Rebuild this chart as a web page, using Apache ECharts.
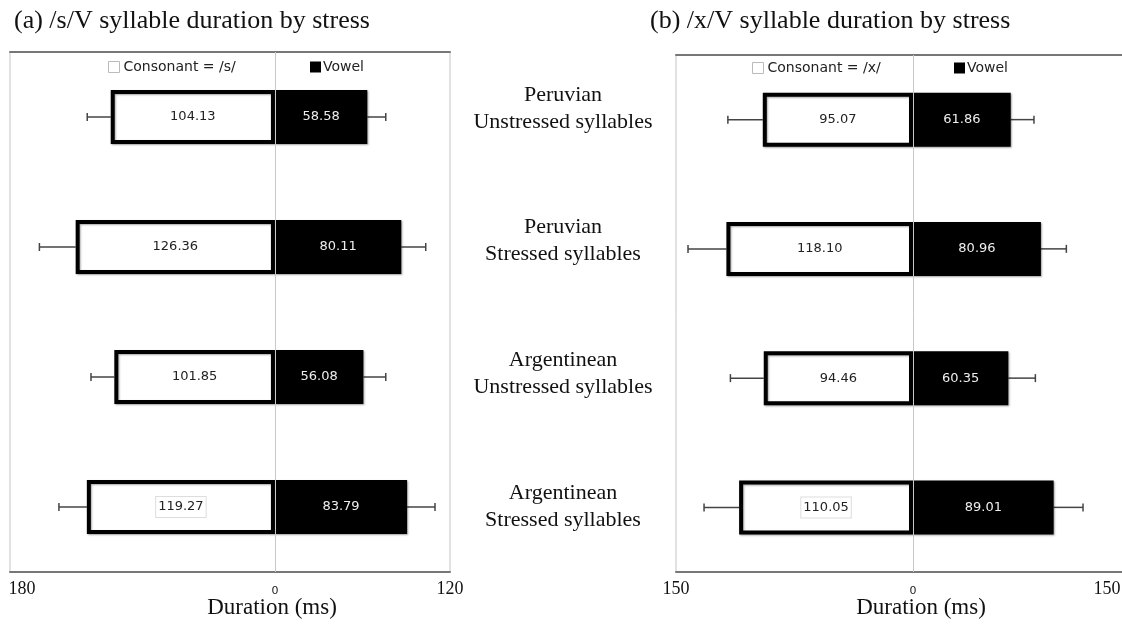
<!DOCTYPE html>
<html>
<head>
<meta charset="utf-8">
<script src="https://cdn.jsdelivr.net/npm/echarts@6/dist/echarts.min.js"></script>
<style>html,body{margin:0;padding:0;background:#fff;overflow:hidden}#c{width:1122px;height:624px}</style>
</head>
<body>
<div id="c"></div>
<script>
// ---- data ----
const categories = ['Peruvian\nUnstressed syllables', 'Peruvian\nStressed syllables', 'Argentinean\nUnstressed syllables', 'Argentinean\nStressed syllables'];
const sConsonant = [104.13, 126.36, 101.85, 119.27];
const sVowel = [58.58, 80.11, 56.08, 83.79];
const sConsonantSD = [14.9, 23.0, 14.8, 17.7];
const sVowelSD = [11.7, 15.5, 14.2, 17.7];
const xConsonant = [95.07, 118.10, 94.46, 110.05];
const xVowel = [61.86, 80.96, 60.35, 89.01];
const xConsonantSD = [22.1, 24.3, 21.1, 22.2];
const xVowelSD = [14.7, 16.1, 17.1, 18.6];
const leftTickValues = [-168, 0, 111];
const leftTickLabels = ['180', '0', '120'];
const rightTickValues = [-150, 0, 150];
const rightTickLabels = ['150', '0', '150'];
const titles = ['(a) /s/V syllable duration by stress', '(b) /x/V syllable duration by stress'];
const axisName = 'Duration (ms)';

const SERIF = '"Liberation Serif", "DejaVu Serif", serif';
const SANS = '"DejaVu Sans", Verdana, sans-serif';

const chart = echarts.init(document.getElementById('c'), null, {renderer: 'canvas'});

function consData(vals) {
  return vals.map((v, i) => {
    const item = {value: -v};
    if (i === vals.length - 1) {
      item.label = {backgroundColor: '#fff', borderColor: '#ddd', borderWidth: 1, padding: [4, 2, 3, 2]};
    }
    return item;
  });
}
function errData(vals, sds, sign) {
  return vals.map((v, i) => [sign * (v + sds[i]), i, sign * v]);
}
function errRender(params, api) {
  const end = api.coord([api.value(0), api.value(1)]);
  const start = api.coord([api.value(2), api.value(1)]);
  const cap = 4;
  const st = {stroke: '#444', lineWidth: 1.5};
  return {
    type: 'group',
    children: [
      {type: 'line', shape: {x1: start[0], y1: start[1], x2: end[0], y2: end[1]}, style: st},
      {type: 'line', shape: {x1: end[0], y1: end[1] - cap, x2: end[0], y2: end[1] + cap}, style: st}
    ]
  };
}
function tickFormatter(values, labels) {
  return function (val) {
    const k = values.indexOf(val);
    const t = k >= 0 ? labels[k] : '';
    if (val === 0) return '{z|' + t + '}';
    if (k === 0 && values === leftTickValues) return '{l|' + t + '}';
    if (k === values.length - 1 && values === rightTickValues) return '{r|' + t + '}';
    return '{n|' + t + '}';
  };
}
const richTicks = {
  n: {fontFamily: SERIF, fontSize: 18, color: '#111'},
  l: {fontFamily: SERIF, fontSize: 18, color: '#111', padding: [0, 0, 0, 24]},
  r: {fontFamily: SERIF, fontSize: 18, color: '#111', padding: [0, 86, 0, 0]},
  z: {fontFamily: SANS, fontSize: 11, color: '#222', padding: [6, 0, 0, 0]}
};

const barShadow = {shadowColor: 'rgba(0,0,0,0.35)', shadowBlur: 2, shadowOffsetX: 1, shadowOffsetY: 1};
const barLabelCons = {show: true, position: 'inside', color: '#222', fontFamily: SANS, fontSize: 13, formatter: p => Math.abs(p.value).toFixed(2)};
const barLabelVow = {show: true, position: 'inside', color: '#eee', fontFamily: SANS, fontSize: 13, formatter: p => Math.abs(p.value).toFixed(2)};
const zeroLine = {silent: true, symbol: 'none', label: {show: false}, lineStyle: {color: '#c8c8c8', width: 1, type: 'solid'}, data: [{xAxis: 0}]};
const legendText = {fontFamily: SANS, fontSize: 14, color: '#222'};
const noShadow = {shadowBlur: 0, shadowOffsetX: 0, shadowOffsetY: 0};
const nameStyle = {fontFamily: SERIF, fontSize: 23, color: '#111'};
const BW = 54;

const option = {
  animation: false,
  backgroundColor: '#fff',
  title: [
    {text: titles[0], left: 14, top: 8, padding: 0, textStyle: {fontFamily: SERIF, fontSize: 26, fontWeight: 'normal', color: '#111'}},
    {text: titles[1], left: 650, top: 8, padding: 0, textStyle: {fontFamily: SERIF, fontSize: 26, fontWeight: 'normal', color: '#111'}}
  ],
  legend: [
    {data: [{name: 'Consonant = /s/', icon: 'rect', itemStyle: Object.assign({color: '#fff', borderColor: '#bbb', borderWidth: 1}, noShadow)}], left: 103, top: 55, itemWidth: 11, itemHeight: 11, textStyle: Object.assign({padding: [0, 0, 0, -1]}, legendText), selectedMode: false},
    {data: [{name: 'Vowel', icon: 'rect', itemStyle: Object.assign({color: '#000', borderWidth: 0}, noShadow)}], left: 305, top: 55, itemWidth: 11, itemHeight: 11, textStyle: Object.assign({padding: [0, 0, 0, -3]}, legendText), selectedMode: false},
    {data: [{name: 'Consonant = /x/', icon: 'rect', itemStyle: Object.assign({color: '#fff', borderColor: '#bbb', borderWidth: 1}, noShadow)}], left: 747, top: 56, itemWidth: 11, itemHeight: 11, textStyle: Object.assign({padding: [0, 0, 0, -1]}, legendText), selectedMode: false},
    {data: [{name: 'Vowel ', icon: 'rect', itemStyle: Object.assign({color: '#000', borderWidth: 0}, noShadow)}], left: 949, top: 56, itemWidth: 11, itemHeight: 11, textStyle: Object.assign({padding: [0, 0, 0, -3]}, legendText), selectedMode: false}
  ],
  grid: [
    {left: 10, top: 52, width: 440, height: 520, show: true, borderColor: '#c4c4c4', borderWidth: 1, containLabel: false, outerBoundsMode: 'none'},
    {left: 676, top: 55, width: 474, height: 517, show: true, borderColor: '#c4c4c4', borderWidth: 1, containLabel: false, outerBoundsMode: 'none'},
    {left: 676, top: 42, width: 474, height: 531, show: false, containLabel: false, outerBoundsMode: 'none'}
  ],
  xAxis: [
    {gridIndex: 0, type: 'value', min: leftTickValues[0], max: leftTickValues[2],
     axisLine: {show: true, lineStyle: {color: '#777', width: 2}}, axisTick: {show: false}, splitLine: {show: false},
     axisLabel: {customValues: leftTickValues, margin: 8, formatter: tickFormatter(leftTickValues, leftTickLabels), rich: richTicks},
     name: axisName, nameLocation: 'middle', nameGap: 24, nameMoveOverlap: false, nameTextStyle: Object.assign({padding: [0, 0, 0, 84]}, nameStyle)},
    {gridIndex: 1, type: 'value', min: rightTickValues[0], max: rightTickValues[2],
     axisLine: {show: true, lineStyle: {color: '#777', width: 2}}, axisTick: {show: false}, splitLine: {show: false},
     axisLabel: {customValues: rightTickValues, margin: 8, formatter: tickFormatter(rightTickValues, rightTickLabels), rich: richTicks},
     name: axisName, nameLocation: 'middle', nameGap: 24, nameMoveOverlap: false, nameTextStyle: Object.assign({padding: [0, 0, 0, 16]}, nameStyle)},
    {gridIndex: 0, type: 'value', position: 'top', min: leftTickValues[0], max: leftTickValues[2],
     axisLine: {show: true, lineStyle: {color: '#777', width: 2}}, axisTick: {show: false}, splitLine: {show: false}, axisLabel: {show: false}},
    {gridIndex: 1, type: 'value', position: 'top', min: rightTickValues[0], max: rightTickValues[2],
     axisLine: {show: true, lineStyle: {color: '#777', width: 2}}, axisTick: {show: false}, splitLine: {show: false}, axisLabel: {show: false}},
    {gridIndex: 2, type: 'value', show: false, min: rightTickValues[0], max: rightTickValues[2]}
  ],
  yAxis: [
    {gridIndex: 0, type: 'category', data: categories, inverse: true, axisLine: {show: false}, axisTick: {show: false}, axisLabel: {show: false}},
    {gridIndex: 1, type: 'category', data: categories, inverse: true, axisLine: {show: false}, axisTick: {show: false}, axisLabel: {show: false}},
    {gridIndex: 2, type: 'category', data: categories, inverse: true, axisLine: {show: false}, axisTick: {show: false}, splitLine: {show: false},
     axisLabel: {show: true, align: 'center', margin: 113, fontFamily: SERIF, fontSize: 22, lineHeight: 27, color: '#111'}}
  ],
  series: [
    {type: 'custom', name: 'errS1', xAxisIndex: 0, yAxisIndex: 0, renderItem: errRender, encode: {x: [0, 2], y: 1}, data: errData(sConsonant, sConsonantSD, -1), z: 1, silent: true},
    {type: 'custom', name: 'errS2', xAxisIndex: 0, yAxisIndex: 0, renderItem: errRender, encode: {x: [0, 2], y: 1}, data: errData(sVowel, sVowelSD, 1), z: 1, silent: true},
    {type: 'custom', name: 'errX1', xAxisIndex: 1, yAxisIndex: 1, renderItem: errRender, encode: {x: [0, 2], y: 1}, data: errData(xConsonant, xConsonantSD, -1), z: 1, silent: true},
    {type: 'custom', name: 'errX2', xAxisIndex: 1, yAxisIndex: 1, renderItem: errRender, encode: {x: [0, 2], y: 1}, data: errData(xVowel, xVowelSD, 1), z: 1, silent: true},
    {type: 'bar', name: 'Consonant = /s/', xAxisIndex: 0, yAxisIndex: 0, barWidth: BW, barGap: '-100%', z: 3,
     itemStyle: Object.assign({color: '#fff', borderColor: '#000', borderWidth: 4}, barShadow), label: barLabelCons, data: consData(sConsonant), markLine: zeroLine},
    {type: 'bar', name: 'Vowel', xAxisIndex: 0, yAxisIndex: 0, barWidth: BW, barGap: '-100%', z: 3,
     itemStyle: Object.assign({color: '#000', borderColor: '#000', borderWidth: 4}, barShadow), label: barLabelVow, data: sVowel},
    {type: 'bar', name: 'Consonant = /x/', xAxisIndex: 1, yAxisIndex: 1, barWidth: BW, barGap: '-100%', z: 3,
     itemStyle: Object.assign({color: '#fff', borderColor: '#000', borderWidth: 4}, barShadow), label: barLabelCons, data: consData(xConsonant), markLine: zeroLine},
    {type: 'bar', name: 'Vowel ', xAxisIndex: 1, yAxisIndex: 1, barWidth: BW, barGap: '-100%', z: 3,
     itemStyle: Object.assign({color: '#000', borderColor: '#000', borderWidth: 4}, barShadow), label: barLabelVow, data: xVowel}
  ]
};
chart.setOption(option);
</script>
</body>
</html>
